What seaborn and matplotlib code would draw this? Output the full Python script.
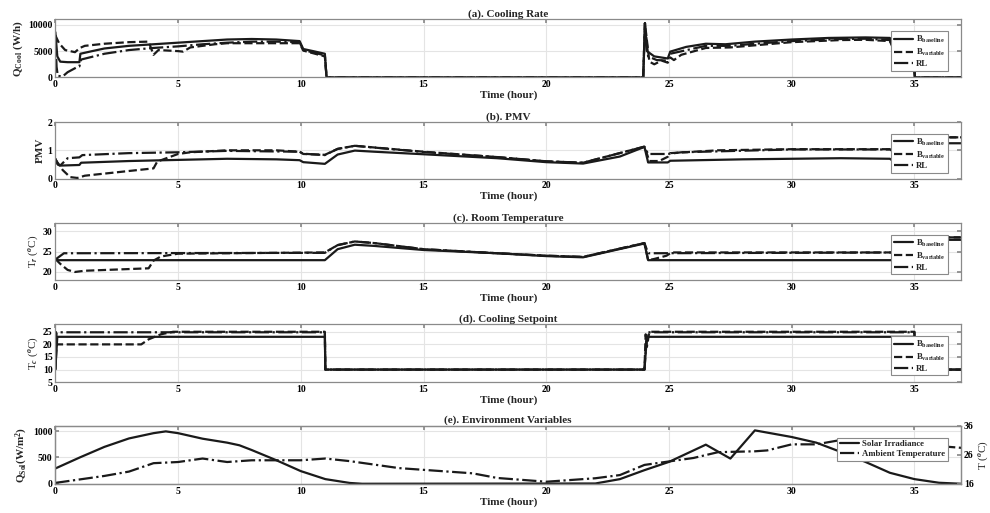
import numpy as np
import pandas as pd
import matplotlib
matplotlib.use("Agg")
import matplotlib.pyplot as plt
import seaborn as sns

# ---------------- data ----------------
# (a) cooling rate (W/h)
t_q_base = [0, 0.08, 0.2, 0.5, 0.98, 1.02, 1.5, 2, 3, 4, 5, 6, 7, 8, 9, 9.95, 10.1, 10.5, 10.98, 11.05,
            23.95, 24.02, 24.1, 24.4, 24.95, 25.05, 25.7, 26.5, 27.3, 28.5, 30, 31.5, 33, 34, 34.15, 34.5, 34.95, 35.02, 36.9]
q_base = [8600, 4000, 3000, 2900, 2900, 4500, 5000, 5500, 6000, 6300, 6600, 6900, 7200, 7300, 7200, 6900, 5400, 5000, 4500, 0,
          0, 10300, 5000, 4000, 3600, 4900, 5800, 6400, 6300, 6800, 7200, 7500, 7600, 7500, 5700, 5200, 4700, 0, 0]
t_q_var = [0, 0.15, 0.4, 0.8, 1.0, 1.2, 2, 3, 3.8, 4.0, 4.2, 5.0, 5.2, 5.5, 6.5, 7, 8, 9, 9.95, 10.1, 10.98, 11.05,
           23.95, 24.02, 24.2, 24.4, 24.7, 24.95, 25.05, 25.2, 25.5, 26.5, 27.5, 28.5, 30, 32, 33, 34, 34.15, 34.95, 35.02, 36.9]
q_var = [8000, 6500, 5200, 4800, 5600, 6000, 6400, 6700, 6800, 4300, 5200, 5000, 4900, 5700, 6300, 6500, 6500, 6500, 6500, 5100, 4000, 0,
         0, 10300, 3000, 2500, 3200, 2800, 3800, 3300, 4300, 5600, 5700, 6100, 6700, 7100, 7150, 6900, 5300, 4200, 0, 0]
t_q_rl = [0, 0.05, 0.1, 0.3, 0.5, 0.9, 0.98, 1.05, 2, 3, 4, 5, 6, 7, 8, 9, 9.95, 10.1, 10.98, 11.05,
          23.95, 24.02, 24.15, 24.5, 24.95, 25.05, 26.5, 27.5, 28.5, 30, 32, 33, 34, 34.15, 34.95, 35.02, 36.9]
q_rl = [8000, 2000, 300, 200, 1000, 2000, 2100, 3400, 4500, 5200, 5600, 5900, 6300, 6600, 6800, 6800, 6700, 5200, 4200, 0,
        0, 10300, 4000, 3300, 3200, 4500, 6000, 6000, 6400, 6900, 7300, 7350, 7100, 5500, 4400, 0, 0]

# (b) PMV
t_p_base = [0, 0.1, 0.25, 0.98, 1.05, 3, 5, 7, 9, 9.95, 10.1, 10.98, 11.5, 12.2, 13, 15, 18, 20, 21.5, 23,
            24.0, 24.15, 24.95, 25.05, 28, 32, 34, 34.15, 34.95, 35.05, 36.9]
p_base = [0.70, 0.50, 0.46, 0.48, 0.56, 0.62, 0.66, 0.70, 0.68, 0.65, 0.58, 0.52, 0.85, 0.99, 0.95, 0.86, 0.72, 0.58, 0.53, 0.78,
          1.12, 0.57, 0.57, 0.63, 0.68, 0.72, 0.70, 0.61, 0.57, 1.25, 1.25]
t_p_var = [0, 0.3, 0.6, 0.9, 1.2, 4.0, 4.15, 5, 5.5, 7, 9, 9.95, 10.1, 10.98, 11.5, 12.2, 15, 18, 20, 21.5,
           24.0, 24.2, 24.6, 24.95, 25.05, 27, 30, 34, 34.15, 34.95, 35.05, 36.9]
p_var = [0.68, 0.30, 0.05, 0.02, 0.10, 0.36, 0.60, 0.87, 0.93, 1.00, 1.00, 0.95, 0.87, 0.84, 1.05, 1.16, 0.95, 0.76, 0.61, 0.56,
         1.13, 0.62, 0.62, 0.77, 0.90, 1.00, 1.04, 1.04, 0.95, 0.90, 1.46, 1.46]
t_p_rl = [0, 0.1, 0.2, 0.5, 0.98, 1.1, 3, 5, 7, 9.95, 10.1, 10.98, 11.5, 12.2, 15, 18, 20, 21.5,
          24.0, 24.15, 24.95, 25.5, 30, 34, 34.15, 34.95, 35.05, 36.9]
p_rl = [0.70, 0.50, 0.46, 0.72, 0.75, 0.83, 0.90, 0.93, 0.98, 0.95, 0.88, 0.83, 1.05, 1.16, 0.94, 0.76, 0.61, 0.56,
        1.13, 0.87, 0.87, 0.93, 1.03, 1.03, 0.95, 0.90, 1.46, 1.46]

# (c) room temperature (degC)
t_r_base = [0, 0.1, 10.98, 11.5, 12.2, 13, 15, 18, 20, 21.5, 24.0, 24.15, 35.0, 35.05, 36.9]
r_base = [23.3, 22.9, 22.9, 25.6, 26.7, 26.4, 25.4, 24.6, 23.9, 23.6, 27.0, 22.9, 22.9, 27.9, 27.9]
t_r_var = [0, 0.2, 0.5, 0.8, 1.2, 3.8, 4.0, 4.3, 5.0, 10.98, 11.5, 12.2, 13, 15, 18, 20, 21.5,
           24.0, 24.15, 24.4, 24.9, 25.1, 35.0, 35.05, 36.9]
r_var = [23.2, 22.0, 20.5, 20.0, 20.3, 20.9, 22.8, 23.8, 24.5, 24.8, 26.6, 27.5, 27.1, 25.6, 24.6, 24.0, 23.7,
         27.1, 22.9, 23.2, 24.0, 24.8, 24.8, 28.5, 28.5]
t_r_rl = [0, 0.1, 0.35, 10.98, 11.5, 12.2, 13, 15, 18, 20, 21.5, 24.0, 24.15, 35.0, 35.05, 36.9]
r_rl = [23.0, 23.5, 24.6, 24.7, 26.6, 27.5, 27.1, 25.6, 24.6, 24.0, 23.7, 27.1, 24.6, 24.8, 28.5, 28.5]

# (d) cooling setpoint (degC)
t_c_base = [0, 0.08, 10.98, 11.0, 24.0, 24.1, 35.0, 35.02, 36.9]
c_base = [10, 23, 23, 10, 10, 23, 23, 10, 10]
t_c_var = [0, 0.05, 3.5, 3.8, 4.3, 4.8, 10.98, 11.0, 24.0, 24.05, 24.1, 24.2, 35.0, 35.02, 36.9]
c_var = [10, 20, 20, 22, 24, 25, 25, 10, 10, 24, 19, 25, 25, 10, 10]
t_c_rl = [0, 0.05, 10.98, 11.0, 24.0, 24.1, 35.0, 35.02, 36.9]
c_rl = [10, 24.8, 24.8, 10, 10, 24.8, 24.8, 10, 10]

# (e) environment
t_sol = [0, 1, 2, 3, 4, 4.5, 5, 6, 7, 7.5, 8, 9, 10, 11, 12, 12.5, 22, 23, 24, 25, 26.5, 27.5, 28.5,
         30, 31, 32, 33, 34, 35, 36, 36.9]
q_sol = [290, 500, 700, 860, 960, 994, 960, 855, 780, 730, 640, 447, 240, 88, 15, 0, 5, 88, 258, 415, 742, 478, 1013,
         887, 780, 604, 415, 208, 88, 19, 0]
t_amb = [0, 2, 3, 4, 5, 6, 7, 8, 10, 11, 12, 14, 15, 17, 18, 20, 22, 23, 24, 25, 26, 27, 28.5, 29, 30, 31,
         32, 33, 34, 35, 36, 36.9]
T_amb = [16.3, 18.7, 20.2, 23.1, 23.5, 24.7, 23.5, 24.1, 24.1, 24.7, 23.8, 21.4, 20.8, 19.6, 18.0, 16.7, 17.9, 19.0,
         22.5, 23.7, 24.9, 26.9, 27.2, 27.5, 29.6, 29.6, 31.1, 31.3, 31.0, 30.0, 29.0, 28.4]

leg_labels = [r"B$_{\mathbf{baseline}}$", r"B$_{\mathbf{variable}}$", "RL"]
xticks = [0, 5, 10, 15, 20, 25, 30, 35]

# ---------------- style ----------------
sns.set_theme(style="whitegrid")
plt.rcParams['font.family'] = ['Liberation Serif', 'DejaVu Serif']
plt.rcParams.update({
    'mathtext.fontset': 'custom',
    'mathtext.rm': 'Liberation Serif',
    'mathtext.bf': 'Liberation Serif:bold',
    'mathtext.it': 'Liberation Serif:italic',
    'font.weight': 'bold',
    'axes.labelweight': 'bold',
})

fig = plt.figure(figsize=(9.9, 5.13), dpi=100)
L, W = 0.0559, 0.9149
rects = [
    [L, 0.849, W, 0.113],
    [L, 0.652, W, 0.110],
    [L, 0.454, W, 0.111],
    [L, 0.255, W, 0.113],
    [L, 0.057, W, 0.113],
]
axes = [fig.add_axes(r) for r in rects]
GREY = '#8a8a8a'


def style(ax, ylim, yticks, title, ylabel, ylab_weight='bold'):
    ax.set_xlim(0, 36.9)
    ax.set_ylim(*ylim)
    ax.set_xticks(xticks)
    ax.set_yticks(yticks)
    ax.grid(True, color='#e4e4e4', lw=0.8)
    for s in ax.spines.values():
        s.set_visible(True)
        s.set_color(GREY)
        s.set_linewidth(0.9)
    ax.tick_params(direction='in', length=3, top=True, right=True, color=GREY,
                   labelsize=7, pad=2, labelcolor='black')
    for lab in ax.get_xticklabels() + ax.get_yticklabels():
        lab.set_fontweight('bold')
    ax.set_title(title, fontsize=8, fontweight='bold', pad=2)
    ax.set_xlabel('Time (hour)', fontsize=8, fontweight='bold', labelpad=1)
    ax.set_ylabel(ylabel, fontsize=8, fontweight=ylab_weight, labelpad=2)


def three(ax, tb, vb, tv, vv, tr, vr):
    sns.lineplot(x=tb, y=vb, ax=ax, color='k', lw=1.6, linestyle='-', label=leg_labels[0],
                 sort=False, estimator=None)
    sns.lineplot(x=tv, y=vv, ax=ax, color='k', lw=1.6, linestyle='--', label=leg_labels[1],
                 sort=False, estimator=None)
    sns.lineplot(x=tr, y=vr, ax=ax, color='k', lw=1.6, linestyle='-.', label=leg_labels[2],
                 sort=False, estimator=None)
    leg = ax.legend(loc='upper right', bbox_to_anchor=(0.99, 0.87), fontsize=6.3, frameon=True,
                    fancybox=False, edgecolor=GREY, framealpha=1, handlelength=2.2,
                    borderpad=0.3, labelspacing=0.2, handletextpad=0.3)
    leg.get_frame().set_linewidth(0.8)


three(axes[0], t_q_base, q_base, t_q_var, q_var, t_q_rl, q_rl)
style(axes[0], (0, 11000), [0, 5000, 10000], '(a). Cooling Rate', r"Q$_{\mathbf{Cool}}$ (W/h)")

three(axes[1], t_p_base, p_base, t_p_var, p_var, t_p_rl, p_rl)
style(axes[1], (0, 2), [0, 1, 2], '(b). PMV', 'PMV')

three(axes[2], t_r_base, r_base, t_r_var, r_var, t_r_rl, r_rl)
style(axes[2], (18, 32), [20, 25, 30], '(c). Room Temperature', r"T$_r$ ($^o$C)", 'normal')

three(axes[3], t_c_base, c_base, t_c_var, c_var, t_c_rl, c_rl)
style(axes[3], (5, 28), [5, 10, 15, 20, 25], '(d). Cooling Setpoint', r"T$_c$ ($^o$C)", 'normal')

ax = axes[4]
sns.lineplot(x=t_sol, y=q_sol, ax=ax, color='k', lw=1.6, linestyle='-', sort=False, estimator=None)
style(ax, (0, 1100), [0, 500, 1000], '(e). Environment Variables', r"Q$_{\mathbf{Sol}}$(W/m$^{\mathbf{2}}$)")
ax.tick_params(right=False)
ax2 = ax.twinx()
sns.lineplot(x=t_amb, y=T_amb, ax=ax2, color='k', lw=1.6, linestyle='-.', sort=False, estimator=None)
ax2.set_ylim(16, 36)
ax2.set_yticks([16, 26, 36])
ax2.grid(False)
for s in ax2.spines.values():
    s.set_visible(True)
    s.set_color(GREY)
    s.set_linewidth(0.9)
ax2.tick_params(direction='in', length=3, color=GREY, labelsize=7, pad=2, labelcolor='black')
for lab in ax2.get_yticklabels():
    lab.set_fontweight('bold')
ax2.set_ylabel(r"T ($^o$C)", fontsize=8, fontweight='normal', labelpad=2)
h = ax.get_lines()[:1] + ax2.get_lines()[:1]
leg = ax2.legend(h, ['Solar Irradiance', 'Ambient Temperature'], loc='upper right',
                 bbox_to_anchor=(0.99, 0.87), fontsize=6.3, frameon=True, fancybox=False,
                 edgecolor=GREY, framealpha=1, handlelength=2.2, borderpad=0.3,
                 labelspacing=0.2, handletextpad=0.3)
leg.get_frame().set_linewidth(0.8)

fig.savefig('out.png', dpi=100)
